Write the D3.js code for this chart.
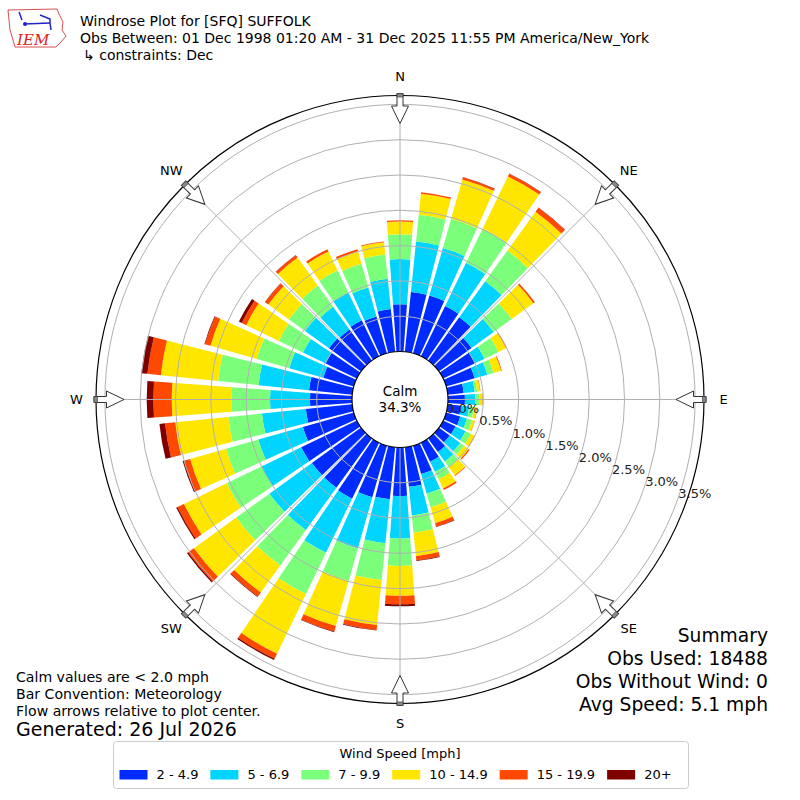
<!DOCTYPE html>
<html>
<head>
<meta charset="utf-8">
<script src="https://cdn.jsdelivr.net/npm/d3@7"></script>
<style>
body{margin:0;background:#fff;}
svg text{font-family:"DejaVu Sans",sans-serif;fill:#000;}
</style>
</head>
<body>
<svg id="chart" width="800" height="800"></svg>
<script>
// wind directions (deg, meteorology: where the wind blows from)
var directions = d3.range(0, 360, 10);
var speedBins = ["2 - 4.9", "5 - 6.9", "7 - 9.9", "10 - 14.9", "15 - 19.9", "20+"];
var speedColors = ["#002bff", "#00d4ff", "#7bff7b", "#ffe600", "#ff4800", "#800000"];
// percent of obs per direction, one array per speed bin
var spd2  = [0.67,0.85,0.85,0.79,0.755,0.57,0.50,0.42,0.227,0.24,0.19,0.207,0.194,0.189,0.237,0.299,0.417,0.564,
             0.687,0.742,0.76,0.88,0.86,0.86,0.874,0.75,0.661,0.595,0.615,0.45,0.49,0.56,0.544,0.566,0.543,0.607];
var spd5  = [0.64,0.72,0.70,0.68,0.63,0.385,0.15,0.186,0.157,0.147,0.116,0.099,0.157,0.184,0.167,0.158,0.289,0.406,
             0.603,0.623,0.754,0.85,0.74,0.74,0.626,0.655,0.625,0.566,0.719,0.50,0.357,0.42,0.396,0.434,0.427,0.431];
var spd7  = [0.35,0.38,0.43,0.54,0.535,0.315,0.22,0.091,0.034,0.062,0.069,0.075,0.085,0.066,0.10,0.118,0.201,0.246,
             0.388,0.525,0.476,0.65,0.62,0.58,0.547,0.477,0.479,0.543,0.576,0.48,0.381,0.28,0.37,0.355,0.35,0.346];
var spd10 = [0.18,0.30,0.58,0.82,0.68,0.38,0.12,0.113,0.042,0.041,0.04,0.039,0.054,0.081,0.141,0.145,0.233,0.334,
             0.422,0.64,0.665,0.94,0.47,0.74,0.673,0.528,0.755,0.85,0.815,0.68,0.512,0.36,0.49,0.295,0.177,0.176];
var spd15 = [0.02,0.02,0.03,0.04,0.07,0.025,0.01,0.01,0.006,0.006,0.006,0.004,0.007,0.018,0.009,0.025,0.05,0.06,
             0.12,0.07,0.08,0.08,0.07,0.10,0.10,0.09,0.145,0.26,0.191,0.08,0.07,0.055,0.04,0.034,0.036,0.01];
var spd20 = [0,0,0.005,0.005,0.005,0,0,0,0,0,0,0,0,0,0,0,0.008,0.01,
             0.03,0.01,0.01,0.02,0.01,0.02,0.02,0.02,0.08,0.094,0.087,0.01,0.045,0.005,0.005,0,0,0];
var series = [spd2, spd5, spd7, spd10, spd15, spd20];
var ringTicks = [0, 0.5, 1.0, 1.5, 2.0, 2.5, 3.0, 3.5];
var compass = ["N", "NE", "E", "SE", "S", "SW", "W", "NW"];
var calmPct = 34.3;
var titleLines = ["Windrose Plot for [SFQ] SUFFOLK",
  "Obs Between: 01 Dec 1998 01:20 AM - 31 Dec 2025 11:55 PM America/New_York",
  "\u21b3 constraints: Dec"];
var noteLines = ["Calm values are < 2.0 mph", "Bar Convention: Meteorology", "Flow arrows relative to plot center."];
var generated = "Generated: 26 Jul 2026";
var summaryLines = ["Summary", "Obs Used: 18488", "Obs Without Wind: 0", "Avg Speed: 5.1 mph"];

var svg = d3.select("#chart");
var cx = 400, cy = 399.5, R = 304, calmR = 48;
var rad = function(deg){ return deg * Math.PI / 180; };

var r = d3.scaleLinear().domain([0, 3.626]).range([calmR, R]);

// stacked table
var keys = speedBins.map(function(d, i){ return "b" + i; });
var rows = directions.map(function(dir, j){
	var o = {dir: dir};
	keys.forEach(function(k, i){ o[k] = series[i][j]; });
	return o;
});
var stacked = d3.stack().keys(keys)(rows);

var plot = svg.append("g").attr("transform", "translate(" + cx + "," + cy + ")");
var halfW = 4.2;
var arc = d3.arc()
	.innerRadius(function(d){ return r(d[0]); })
	.outerRadius(function(d){ return r(d[1]); })
	.startAngle(function(d){ return rad(d.data.dir - halfW); })
	.endAngle(function(d){ return rad(d.data.dir + halfW); });

plot.selectAll("g.bin").data(stacked).enter().append("g")
	.attr("class", "bin")
	.attr("fill", function(d, i){ return speedColors[i]; })
	.selectAll("path")
	.data(function(d){ return d.filter(function(s){ return s[1] - s[0] > 0; }); })
	.enter().append("path")
	.attr("d", arc);

// grid
plot.selectAll("circle.ring").data(ringTicks.slice(1)).enter().append("circle")
	.attr("r", function(d){ return r(d); })
	.attr("fill", "none").attr("stroke", "#b0b0b0").attr("stroke-width", 1);
plot.selectAll("line.spoke").data(compass).enter().append("line")
	.attr("x1", function(d, i){ return calmR * Math.sin(rad(i * 45)); })
	.attr("y1", function(d, i){ return -calmR * Math.cos(rad(i * 45)); })
	.attr("x2", function(d, i){ return R * Math.sin(rad(i * 45)); })
	.attr("y2", function(d, i){ return -R * Math.cos(rad(i * 45)); })
	.attr("stroke", "#b0b0b0").attr("stroke-width", 1);

// calm circle
plot.append("circle").attr("r", calmR).attr("fill", "#fff").attr("stroke", "#000").attr("stroke-width", 1.2);
plot.append("text").attr("x", 0).attr("y", -4).attr("text-anchor", "middle")
	.style("font-size", "13.5px").text("Calm");
plot.append("text").attr("x", 0).attr("y", 12).attr("text-anchor", "middle")
	.style("font-size", "13.5px").text(calmPct.toFixed(1) + "%");

// ring labels
var labAng = rad(110);
plot.selectAll("text.rlab").data(ringTicks).enter().append("text")
	.attr("x", function(d){ return r(d) * Math.sin(labAng) + 1; })
	.attr("y", function(d){ return -r(d) * Math.cos(labAng) - 2.5; })
	.style("font-size", "13px").style("fill", "#222")
	.text(function(d){ return d.toFixed(1) + "%"; });

// outer circle
plot.append("circle").attr("r", R).attr("fill", "none").attr("stroke", "#000").attr("stroke-width", 1.2);

// flow arrows
var arrow = "M-3,-306L3,-306L3,-293.5L8.5,-293.5L0,-276L-8.5,-293.5L-3,-293.5Z";
compass.forEach(function(c, i){
	var g = plot.append("g").attr("transform", "rotate(" + (i * 45) + ")");
	g.append("path").attr("d", arrow).attr("fill", "#fff").attr("stroke", "#333").attr("stroke-width", 1);
	g.append("rect").attr("x", -3).attr("y", -306).attr("width", 6).attr("height", 3.5)
		.attr("fill", "#888").attr("stroke", "#333").attr("stroke-width", 0.6);
});
plot.selectAll("text.dir").data(compass).enter().append("text")
	.attr("x", function(d, i){ return 323.5 * Math.sin(rad(i * 45)); })
	.attr("y", function(d, i){ return -323.5 * Math.cos(rad(i * 45)); })
	.attr("text-anchor", "middle").attr("dominant-baseline", "central")
	.style("font-size", "13px").text(function(d){ return d; });

// titles
svg.selectAll("text.title").data(titleLines).enter().append("text")
	.attr("x", function(d, i){ return i == 2 ? 83 : 80; })
	.attr("y", function(d, i){ return 25.5 + i * 17; })
	.style("font-size", "14px").text(function(d){ return d; });

// notes
svg.selectAll("text.note").data(noteLines).enter().append("text")
	.attr("x", 16).attr("y", function(d, i){ return 681.5 + i * 17; })
	.style("font-size", "14.1px").text(function(d){ return d; });
svg.append("text").attr("x", 16).attr("y", 735.5).style("font-size", "19px").text(generated);

svg.selectAll("text.sum").data(summaryLines).enter().append("text")
	.attr("x", 768).attr("y", function(d, i){ return 641.5 + i * 23.2; })
	.attr("text-anchor", "end").style("font-size", "18.7px").text(function(d){ return d; });

// legend
var leg = svg.append("g");
leg.append("rect").attr("x", 113.5).attr("y", 741.5).attr("width", 575).attr("height", 47).attr("rx", 3)
	.attr("fill", "#fff").attr("stroke", "#ccc");
leg.append("text").attr("x", 400).attr("y", 757.5).attr("text-anchor", "middle")
	.style("font-size", "13px").text("Wind Speed [mph]");
var lx = 119.5;
speedBins.forEach(function(s, i){
	leg.append("rect").attr("x", lx).attr("y", 770).attr("width", 28).attr("height", 9.5).attr("fill", speedColors[i]);
	var t = leg.append("text").attr("x", lx + 37).attr("y", 779).style("font-size", "13px").text(s);
	lx += 37 + t.node().getComputedTextLength() + 12;
});

// IEM logo (rough)
var logo = svg.append("g");
logo.append("path").attr("d", "M8,10L57,9L59,14L63,22L62,30L66,36L61,42L56,47L15,47L13,40L10,30L9,20Z")
	.attr("fill", "none").attr("stroke", "#c22").attr("stroke-width", 0.8);
logo.append("line").attr("x1", 24).attr("y1", 24).attr("x2", 50).attr("y2", 23)
	.attr("stroke", "#22c").attr("stroke-width", 1.5);
logo.append("circle").attr("cx", 25).attr("cy", 24).attr("r", 2).attr("fill", "#22c");
logo.append("path").attr("d", "M19,12L22,20M40,15L50,19L50,23M50,23L51,30").attr("stroke", "#22c")
	.attr("stroke-width", 1.5).attr("fill", "none");
logo.append("text").attr("x", 17).attr("y", 45).style("font-family", "DejaVu Serif")
	.style("font-style", "italic").style("font-size", "15px").style("fill", "#d22").text("IEM");
</script>
</body>
</html>
